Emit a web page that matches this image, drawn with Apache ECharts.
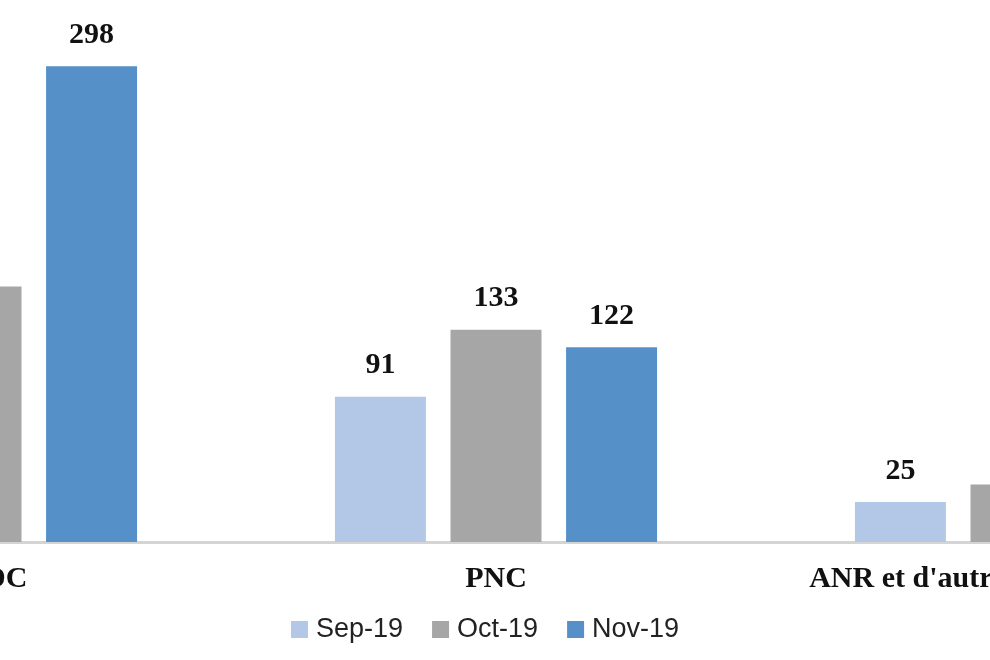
<!DOCTYPE html>
<html>
<head>
<meta charset="utf-8">
<script src="https://cdn.jsdelivr.net/npm/echarts@6/dist/echarts.min.js"></script>
<style>html,body{margin:0;padding:0;background:#fff}#c{width:990px;height:660px}</style>
</head>
<body>
<div id="c"></div>
<script>
const categories = ["FARDC", "PNC", "ANR et d'autres agents de l'État"];
const seriesNames = ["Sep-19", "Oct-19", "Nov-19"];
const sep19 = [205, 91, 25];
const oct19 = [160, 133, 36];
const nov19 = [298, 122, 30];
const colors = ["#b3c8e7", "#a6a6a6", "#5590c9"];

const chart = echarts.init(document.getElementById('c'));
const lbl = {show: true, position: 'top', distance: 16, fontFamily: 'Liberation Serif', fontWeight: 'bold', fontSize: 30, color: '#111'};
const mk = (name, data, i) => ({
  name, type: 'bar', data, barWidth: 91, barGap: '27%',
  itemStyle: {color: colors[i]}, label: lbl
});
chart.setOption({
  animation: false,
  grid: {left: -284, width: 1560, top: 63, bottom: 118, containLabel: false, outerBoundsMode: 'none'},
  legend: {
    bottom: 12, left: 286, itemGap: 29, itemWidth: 17, itemHeight: 17,
    icon: 'rect', textStyle: {fontFamily: 'Liberation Sans', fontSize: 27, color: '#222', padding: [0,0,0,3]},
    data: seriesNames
  },
  xAxis: {
    type: 'category', data: categories,
    axisLine: {lineStyle: {color: '#d4d4d4', width: 3}},
    axisTick: {show: false},
    axisLabel: {margin: 22, fontFamily: 'Liberation Serif', fontWeight: 'bold', fontSize: 30, color: '#111', interval: 0}
  },
  yAxis: {type: 'value', min: 0, max: 300, show: false, splitLine: {show: false}},
  series: [mk(seriesNames[0], sep19, 0), mk(seriesNames[1], oct19, 1), mk(seriesNames[2], nov19, 2)]
});
</script>
</body>
</html>
